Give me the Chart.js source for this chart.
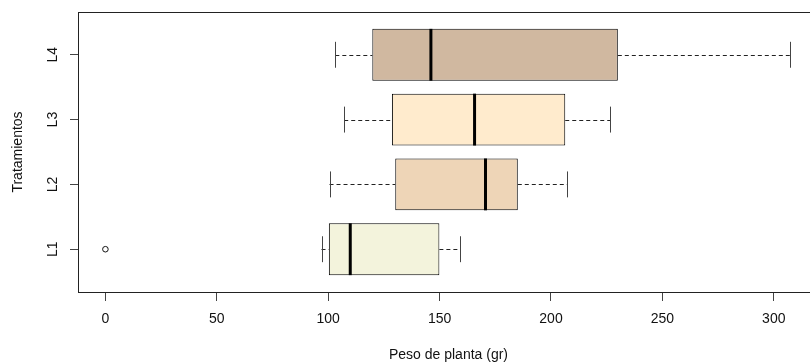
<!DOCTYPE html>
<html>
<head>
<meta charset="utf-8">
<script src="https://cdn.jsdelivr.net/npm/chart.js@4/dist/chart.umd.min.js"></script>
<style>
html,body{margin:0;padding:0;background:#fff;overflow:hidden;width:810px;height:364px;}
#wrap{position:absolute;left:0;top:0;width:830px;height:364px;}
</style>
</head>
<body>
<div id="wrap"><canvas id="c" width="830" height="364"></canvas></div>
<script>
// ---- data ----
const categories = ['L1', 'L2', 'L3', 'L4'];
const positions = [1, 2, 3, 4];
const whiskerLow = [97.0, 100.6, 107.2, 103.2];
const q1 = [100.3, 130.1, 128.6, 119.8];
const medians = [109.9, 170.6, 165.7, 146.1];
const q3 = [149.9, 185.1, 206.4, 230.0];
const whiskerHigh = [159.3, 207.4, 226.7, 307.3];
const outlierCategory = ['L1'];
const outlierValue = [0];
const xTickValues = [0, 50, 100, 150, 200, 250, 300];
const boxColors = ['#F3F3DC', '#EED5B7', '#FFEBCD', '#D0B8A0'];

const FONT = "'Liberation Sans', Arial, sans-serif";

const boxData = categories.map((c, i) => ({ y: positions[i], x: [q1[i], q3[i]] }));
const outlierData = outlierCategory.map((c, i) => ({ x: outlierValue[i], y: positions[categories.indexOf(c)] }));

const boxPlugin = {
  id: 'boxExtras',
  afterDatasetsDraw(chart) {
    const ctx = chart.ctx;
    const xs = chart.scales.x, ys = chart.scales.y;
    const unit = Math.abs(ys.getPixelForValue(1) - ys.getPixelForValue(0));
    const half = unit * 0.4;
    const capHalf = unit * 0.2;
    ctx.save();
    categories.forEach((c, i) => {
      const y = ys.getPixelForValue(positions[i]);
      const xl = xs.getPixelForValue(whiskerLow[i]);
      const xq1 = xs.getPixelForValue(q1[i]);
      const xq3 = xs.getPixelForValue(q3[i]);
      const xh = xs.getPixelForValue(whiskerHigh[i]);
      const xm = xs.getPixelForValue(medians[i]);
      // dashed whiskers
      ctx.strokeStyle = '#222';
      ctx.lineWidth = 1;
      ctx.setLineDash([4, 3]);
      ctx.beginPath();
      ctx.moveTo(xl, Math.round(y) + 0.5); ctx.lineTo(xq1, Math.round(y) + 0.5);
      ctx.moveTo(xq3, Math.round(y) + 0.5); ctx.lineTo(xh, Math.round(y) + 0.5);
      ctx.stroke();
      ctx.setLineDash([]);
      // caps
      ctx.strokeStyle = '#444';
      ctx.beginPath();
      ctx.moveTo(Math.round(xl) + 0.5, y - capHalf); ctx.lineTo(Math.round(xl) + 0.5, y + capHalf);
      ctx.moveTo(Math.round(xh) + 0.5, y - capHalf); ctx.lineTo(Math.round(xh) + 0.5, y + capHalf);
      ctx.stroke();
      // median
      ctx.strokeStyle = '#000';
      ctx.lineWidth = 3;
      ctx.beginPath();
      ctx.moveTo(xm, y - half); ctx.lineTo(xm, y + half);
      ctx.stroke();
    });
    // plot frame
    const a = chart.chartArea;
    ctx.strokeStyle = '#222';
    ctx.lineWidth = 1;
    ctx.strokeRect(Math.round(a.left) + 0.5, Math.round(a.top) + 0.5, Math.round(a.right - a.left), Math.round(a.bottom - a.top));
    // y tick labels (rotated, R style)
    ctx.fillStyle = '#111';
    ctx.font = '14px ' + FONT;
    ctx.textAlign = 'center';
    ctx.textBaseline = 'middle';
    categories.forEach((c, i) => {
      const y = ys.getPixelForValue(positions[i]);
      ctx.save();
      ctx.translate(53, y);
      ctx.rotate(-Math.PI / 2);
      ctx.fillText(c, 0, 0);
      ctx.restore();
    });
    ctx.restore();
  }
};

new Chart(document.getElementById('c'), {
  type: 'bar',
  data: {
    datasets: [
      {
        type: 'bar',
        data: boxData,
        backgroundColor: boxColors,
        borderColor: '#000',
        borderWidth: 1,
        borderSkipped: false,
        categoryPercentage: 0.8,
        barPercentage: 1.0,
        order: 2
      },
      {
        type: 'scatter',
        data: outlierData,
        pointStyle: 'circle',
        pointRadius: 2.8,
        pointBorderWidth: 1,
        pointBorderColor: '#111',
        pointBackgroundColor: 'rgba(0,0,0,0)',
        order: 1
      }
    ]
  },
  options: {
    indexAxis: 'y',
    responsive: false,
    animation: false,
    events: [],
    layout: { padding: { top: 12, right: 11, bottom: 0, left: 0 } },
    plugins: { legend: { display: false }, tooltip: { enabled: false } },
    scales: {
      x: {
        type: 'linear',
        position: 'bottom',
        min: -12.3,
        max: 320.3,
        offset: false,
        afterFit(s) { s.height = 72; },
        afterBuildTicks(s) { s.ticks = xTickValues.map(v => ({ value: v })); },
        ticks: { font: { size: 14, family: FONT }, color: '#111', padding: 10, maxRotation: 0, includeBounds: false },
        grid: { drawOnChartArea: false, drawTicks: true, tickLength: 9, color: '#444', offset: false },
        border: { display: true, color: '#222' },
        title: { display: true, text: 'Peso de planta (gr)', font: { size: 14, family: FONT }, color: '#111', padding: { top: 0, bottom: 0 } }
      },
      y: {
        type: 'linear',
        position: 'left',
        min: 0.34,
        max: 4.66,
        offset: false,
        afterFit(s) { s.width = 78; },
        afterBuildTicks(s) { s.ticks = positions.map(v => ({ value: v })); },
        ticks: { display: false },
        grid: { drawOnChartArea: false, drawTicks: true, tickLength: 8, color: '#444', offset: false },
        border: { display: true, color: '#222' },
        title: { display: true, text: 'Tratamientos', font: { size: 14, family: FONT }, color: '#111', padding: { top: 10, bottom: 10 } }
      }
    }
  },
  plugins: [boxPlugin]
});
</script>
</body>
</html>
